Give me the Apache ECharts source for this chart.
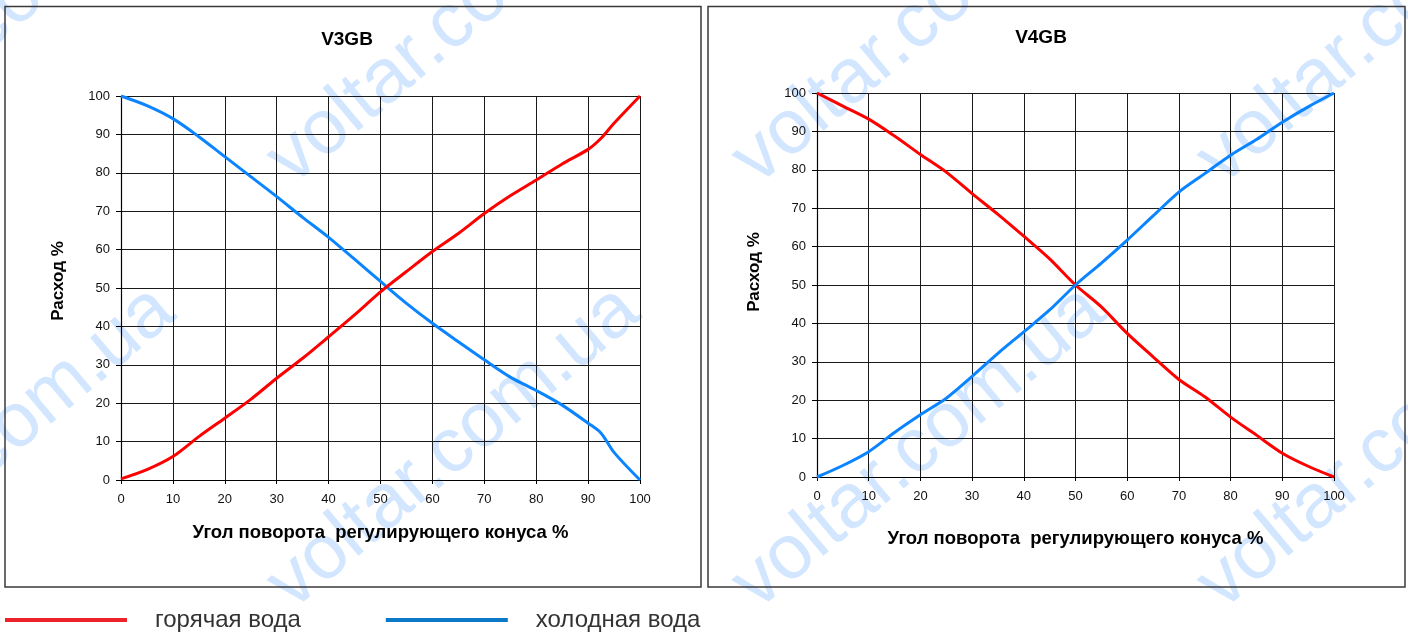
<!DOCTYPE html>
<html>
<head>
<meta charset="utf-8">
<script src="https://cdn.jsdelivr.net/npm/echarts@6/dist/echarts.min.js"></script>
<style>
html,body{margin:0;padding:0;background:#fff;}
#chart{width:1408px;height:635px;}
</style>
</head>
<body>
<div id="chart"></div>
<script>
// ---- data ----
const titles = ['V3GB', 'V4GB'];
const seriesNames = ['горячая вода', 'холодная вода'];
const xAxisName = 'Угол поворота  регулирующего конуса %';
const yAxisName = 'Расход %';

const v3Angle = [0, 5, 10, 15, 20, 25, 30, 35, 40, 45, 50, 55, 60, 65, 70, 75, 80, 85, 90, 92.5, 95, 100];
const v3Hot   = [0.3, 2.7, 6.1, 11.3, 16.1, 21.0, 26.5, 31.7, 37.3, 43.0, 49.0, 54.3, 59.5, 64.2, 69.4, 74.0, 78.1, 82.3, 86.1, 89.0, 92.9, 100];
const v3Cold  = [100, 97.5, 94.1, 89.4, 84.2, 79.0, 73.8, 68.4, 63.2, 57.5, 51.7, 46.0, 40.8, 36.0, 31.3, 26.8, 23.3, 19.5, 14.8, 12.2, 7.2, 0];

const v4Angle = [0, 5, 10, 15, 20, 25, 30, 35, 40, 45, 50, 55, 60, 65, 70, 75, 80, 85, 90, 95, 100];
const v4Hot   = [100, 96.6, 93.2, 88.8, 84.0, 79.4, 73.8, 68.4, 62.7, 56.8, 50, 44.3, 37.4, 31.3, 25.4, 20.9, 15.6, 10.9, 6.2, 2.8, 0];
const v4Cold  = [0, 3.0, 6.6, 11.6, 16.2, 20.5, 26.2, 32.2, 37.8, 43.5, 50, 55.7, 61.7, 68.0, 74.2, 79.0, 83.8, 87.9, 92.4, 96.4, 100];

const watermarkText = ['voltar.', 'com.ua'];

// ---- build ----
const pair = (xs, ys) => xs.map((x, i) => [x, ys[i]]);
const FONT = 'Liberation Sans, Arial, sans-serif';
const HOT = '#ff0000';
const COLD = '#0a84ff';

function xAx(gi, gap) {
  return {
    type: 'value', gridIndex: gi, min: 0, max: 100, interval: 10,
    axisLine: {show: true, lineStyle: {color: '#000', width: 1.2}},
    axisTick: {show: true, length: 4, lineStyle: {color: '#000'}},
    axisLabel: {fontSize: 13, color: '#111', margin: 13, fontFamily: FONT},
    splitLine: {show: true, lineStyle: {color: '#1a1a1a', width: 1}},
    name: xAxisName, nameLocation: 'middle', nameGap: gap,
    nameTextStyle: {fontWeight: 'bold', fontSize: 18.5, color: '#000', fontFamily: FONT}
  };
}
function yAx(gi, pad) {
  return {
    type: 'value', gridIndex: gi, min: 0, max: 100, interval: 10,
    axisLine: {show: true, lineStyle: {color: '#000', width: 1.2}},
    axisTick: {show: true, length: 5, lineStyle: {color: '#000'}},
    axisLabel: {fontSize: 13, color: '#111', margin: 11, fontFamily: FONT},
    splitLine: {show: true, lineStyle: {color: '#1a1a1a', width: 1}},
    name: yAxisName, nameLocation: 'middle', nameGap: 54, nameRotate: 90,
    nameTextStyle: {fontWeight: 'bold', fontSize: 17, color: '#000', fontFamily: FONT, padding: [0, 0, 0, pad]}
  };
}

const wmCols = [-29, 436, 901, 1366];
const wmRows = [38, 463];
const rot = 40 * Math.PI / 180;
const wm = [];
wmRows.forEach(y => wmCols.forEach(x => {
  wm.push({type: 'text', x: x, y: y, rotation: rot, z: -10, silent: true,
    style: {text: watermarkText[0], fill: '#d2e6ff', font: '77px Liberation Sans', align: 'right', verticalAlign: 'middle'}});
  wm.push({type: 'text', x: x, y: y, rotation: rot, z: -10, silent: true,
    style: {text: watermarkText[1], fill: '#d2e6ff', font: '77px Liberation Sans', align: 'left', verticalAlign: 'middle'}});
}));

const chart = echarts.init(document.getElementById('chart'), null, {renderer: 'canvas'});
chart.setOption({
  backgroundColor: '#fff',
  animation: false,
  title: [
    {text: titles[0], left: 347, top: 30, textAlign: 'center', padding: 0,
     textStyle: {fontSize: 19, fontWeight: 'bold', color: '#000', fontFamily: FONT}},
    {text: titles[1], left: 1041, top: 28, textAlign: 'center', padding: 0,
     textStyle: {fontSize: 19, fontWeight: 'bold', color: '#000', fontFamily: FONT}}
  ],
  legend: {
    left: 5, top: 608, padding: 0,
    itemWidth: 122, itemHeight: 4, itemGap: 85, icon: 'rect',
    textStyle: {fontSize: 24, color: '#333', fontFamily: FONT, padding: [0, 0, 0, 23]},
    data: [
      {name: seriesNames[0], itemStyle: {color: '#ee2229'}},
      {name: seriesNames[1], itemStyle: {color: '#0b79c7'}}
    ]
  },
  grid: [
    {left: 121, top: 96, width: 519, height: 384},
    {left: 817, top: 93, width: 517, height: 384}
  ],
  xAxis: [xAx(0, 43), xAx(1, 52)],
  yAxis: [yAx(0, 14), yAx(1, 26)],
  graphic: wm.concat([
    {type: 'rect', z: 100, silent: true, shape: {x: 5, y: 6.5, width: 696, height: 580.5},
     style: {fill: null, stroke: '#3a3a3a', lineWidth: 1.5}},
    {type: 'rect', z: 100, silent: true, shape: {x: 708, y: 6.5, width: 697, height: 580.5},
     style: {fill: null, stroke: '#3a3a3a', lineWidth: 1.5}}
  ]),
  series: [
    {name: seriesNames[0], type: 'line', xAxisIndex: 0, yAxisIndex: 0, data: pair(v3Angle, v3Hot),
     showSymbol: false, smooth: 0.3, lineStyle: {color: HOT, width: 3}, itemStyle: {color: HOT}, z: 5},
    {name: seriesNames[1], type: 'line', xAxisIndex: 0, yAxisIndex: 0, data: pair(v3Angle, v3Cold),
     showSymbol: false, smooth: 0.3, lineStyle: {color: COLD, width: 3}, itemStyle: {color: COLD}, z: 4},
    {name: seriesNames[0], type: 'line', xAxisIndex: 1, yAxisIndex: 1, data: pair(v4Angle, v4Hot),
     showSymbol: false, smooth: 0.3, lineStyle: {color: HOT, width: 3}, itemStyle: {color: HOT}, z: 4},
    {name: seriesNames[1], type: 'line', xAxisIndex: 1, yAxisIndex: 1, data: pair(v4Angle, v4Cold),
     showSymbol: false, smooth: 0.3, lineStyle: {color: COLD, width: 3}, itemStyle: {color: COLD}, z: 5}
  ]
});
</script>
</body>
</html>
